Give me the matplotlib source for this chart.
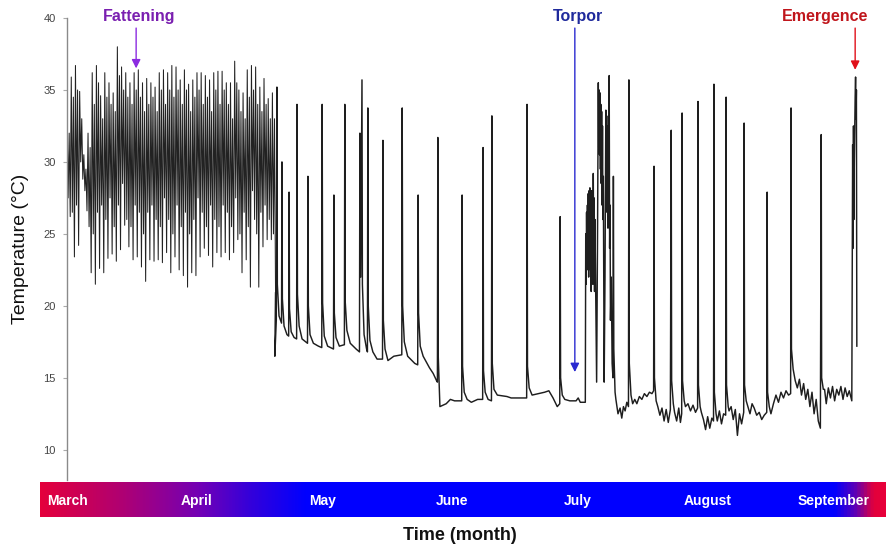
import numpy as np
import matplotlib
matplotlib.use("Agg")
import matplotlib.pyplot as plt
from matplotlib.colors import LinearSegmentedColormap

plt.rcParams['font.family'] = ['Liberation Sans', 'DejaVu Sans']

# ---- data: body temperature (deg C) vs. day since 1 March ----
# fattening phase, per day: max, first min, second max, second min (days 0..49)
fat_high = [33.0, 35.9, 36.7, 34.9, 30.5, 32.0, 36.2, 36.7, 34.6, 36.2,
            35.5, 34.8, 38.0, 36.6, 36.2, 35.5, 36.2, 36.4, 35.5, 35.8,
            35.5, 35.2, 36.2, 36.4, 36.2, 36.7, 36.6, 35.7, 36.4, 35.4,
            35.7, 36.2, 36.2, 36.0, 35.7, 36.2, 36.3, 36.3, 35.5, 35.5,
            37.0, 35.0, 34.8, 36.4, 36.7, 36.6, 35.2, 35.8, 34.4, 34.8]
fat_dip = [27.5, 26.5, 27.0, 30.0, 28.0, 25.5, 25.0, 26.5, 27.0, 26.0,
           27.5, 25.5, 27.0, 28.5, 26.0, 25.5, 27.0, 26.5, 25.0, 26.5,
           27.0, 26.0, 25.5, 27.5, 26.0, 25.0, 27.0, 25.5, 26.5, 25.0,
           26.0, 27.5, 26.5, 25.5, 27.0, 26.0, 25.5, 27.0, 26.5, 25.5,
           27.5, 25.0, 26.5, 25.5, 28.0, 25.0, 26.5, 27.0, 26.0, 25.0]
fat_peak2 = [32.0, 34.5, 35.0, 33.0, 29.5, 31.0, 34.0, 35.5, 33.0, 34.5,
             34.0, 33.5, 36.0, 35.0, 34.5, 34.0, 35.0, 34.5, 33.5, 34.0,
             34.5, 33.5, 35.0, 34.0, 35.0, 34.5, 35.0, 34.0, 35.0, 33.5,
             34.5, 35.0, 34.0, 34.5, 33.5, 35.0, 34.0, 35.0, 34.0, 33.0,
             35.5, 33.5, 33.0, 34.5, 35.0, 34.0, 33.5, 34.0, 33.0, 33.0]
fat_low = [26.2, 23.4, 24.2, 28.8, 26.6, 22.3, 21.5, 22.6, 22.3, 23.3,
           23.6, 23.1, 23.9, 25.6, 24.1, 23.2, 23.4, 22.7, 21.7, 23.2,
           23.1, 23.2, 23.0, 23.7, 22.3, 23.4, 22.5, 22.1, 21.3, 22.3,
           22.1, 23.4, 24.0, 23.5, 22.7, 23.7, 23.4, 23.7, 23.2, 23.7,
           24.6, 22.3, 23.2, 21.3, 26.0, 21.3, 24.1, 24.6, 24.6, 20.9]

# hibernation phase: (day, temperature) readings
may_pts = [(49.6, 16.5), (49.95, 19.0), (50.1, 35.2), (50.2, 21.5), (50.6, 19.3),
           (51.2, 18.8), (51.3, 30.0), (51.4, 20.5), (51.8, 18.6), (52.5, 18.0),
           (52.9, 17.9), (53.0, 27.9), (53.1, 19.8), (53.5, 18.2), (54.2, 17.8),
           (54.8, 17.7), (54.9, 34.0), (55.0, 20.8), (55.4, 18.6), (56.1, 17.7),
           (57.4, 17.4), (57.5, 29.0), (57.6, 20.0), (58.0, 18.0), (58.8, 17.4),
           (60.0, 17.2), (60.8, 17.1), (60.9, 34.0), (61.0, 20.2), (61.4, 17.9),
           (62.2, 17.2), (63.6, 17.0), (63.7, 27.7), (63.8, 19.5), (64.2, 17.8),
           (65.0, 17.2), (66.2, 17.3), (66.3, 34.0), (66.4, 20.3), (66.8, 18.3),
           (67.6, 17.4), (69.0, 17.0), (69.8, 16.8), (69.9, 32.0), (70.1, 22.0),
           (70.4, 35.7), (70.5, 21.5), (70.9, 18.0), (71.5, 17.0), (71.7, 16.8),
           (71.8, 33.75), (71.9, 20.0), (72.3, 17.6), (73.0, 16.8), (74.0, 16.3),
           (75.3, 16.3), (75.4, 31.5), (75.5, 19.0), (75.9, 17.0), (76.6, 16.2),
           (78.0, 16.5), (79.9, 16.6), (80.0, 33.75), (80.1, 20.0), (80.5, 17.5),
           (81.3, 16.5), (83.0, 16.0), (83.7, 15.9), (83.8, 27.7), (83.9, 19.5),
           (84.3, 17.2), (85.0, 16.5), (86.5, 15.7), (87.4, 15.3), (88.2, 14.8),
           (88.4, 14.7), (88.5, 31.7), (88.6, 16.5)]

june_pts = [(89.0, 13.0), (90.5, 13.2), (91.5, 13.5), (92.5, 13.4), (94.2, 13.4),
            (94.3, 27.7), (94.4, 15.8), (94.8, 14.0), (95.5, 13.5), (96.5, 13.3),
            (98.0, 13.5), (99.2, 13.5), (99.3, 31.0), (99.4, 15.5), (99.8, 14.0),
            (100.5, 13.5), (101.3, 13.4), (101.4, 33.2), (101.5, 16.0), (101.9, 14.2),
            (102.7, 13.8), (105.0, 13.7), (106.0, 13.6), (108.0, 13.6), (109.7, 13.6),
            (109.8, 34.0), (109.9, 15.8), (110.3, 14.3), (111.0, 13.8), (112.5, 13.9),
            (114.0, 14.0), (115.0, 14.1), (116.0, 13.6), (117.0, 13.0), (117.6, 13.2),
            (117.7, 26.2), (117.8, 15.0), (118.2, 13.8), (118.8, 13.5), (120.0, 13.4),
            (121.5, 13.4), (122.0, 13.6), (122.5, 13.3), (123.4, 13.3), (123.7, 13.3)]

july_pts = [(123.8, 25.0), (123.9, 21.5), (124.0, 26.5), (124.1, 22.5), (124.2, 27.0),
            (124.3, 23.5), (124.4, 27.8), (124.5, 22.0), (124.6, 28.0), (124.7, 24.0),
            (124.8, 28.2), (124.9, 22.5), (125.0, 27.5), (125.1, 21.0), (125.2, 28.0),
            (125.3, 23.0), (125.4, 27.0), (125.5, 21.5), (125.6, 29.2), (125.7, 23.5),
            (125.8, 27.5), (125.9, 21.0), (126.0, 26.0), (126.2, 20.0), (126.4, 14.7),
            (126.6, 24.0), (126.8, 35.5), (126.9, 31.0), (127.0, 35.0), (127.1, 30.5),
            (127.2, 34.8), (127.3, 29.5), (127.4, 34.0), (127.5, 28.5), (127.6, 33.5),
            (127.7, 27.0), (127.8, 32.5), (127.9, 26.0), (128.0, 29.0), (128.2, 14.7),
            (128.4, 22.0), (128.6, 33.6), (128.7, 28.0), (128.8, 33.2), (128.9, 26.5),
            (129.0, 32.5), (129.1, 25.4), (129.2, 30.0), (129.3, 27.0), (129.4, 36.0),
            (129.5, 24.0), (129.6, 27.0), (129.7, 19.0), (129.9, 22.0), (130.1, 16.0),
            (130.3, 15.0), (130.4, 29.0), (130.5, 17.0), (130.8, 14.0), (131.0, 13.5),
            (131.5, 12.5), (132.0, 12.9), (132.4, 12.2), (132.8, 13.0), (133.2, 12.7),
            (133.6, 13.3), (134.0, 13.0), (134.1, 35.7), (134.2, 16.0), (134.6, 13.8),
            (135.0, 13.2), (135.5, 13.5), (136.0, 13.2), (136.6, 13.7), (137.2, 13.5),
            (137.8, 13.9), (138.4, 13.7), (139.0, 14.0), (139.6, 13.9), (140.0, 14.1),
            (140.1, 29.7), (140.2, 15.0), (140.6, 13.4), (141.0, 13.0), (141.5, 12.4),
            (142.0, 12.9), (142.5, 12.0), (143.0, 12.8), (143.5, 11.9), (144.0, 12.8),
            (144.2, 32.2), (144.3, 14.8), (144.7, 13.2), (145.0, 12.6), (145.5, 12.0),
            (146.0, 12.9), (146.4, 11.9), (146.7, 12.5), (146.8, 33.4), (146.9, 14.8),
            (147.3, 13.4), (147.6, 13.0), (148.2, 13.2), (148.8, 12.7), (149.4, 13.1),
            (150.0, 12.6), (150.5, 12.9), (150.6, 34.2), (150.7, 14.5), (151.1, 13.0),
            (151.4, 12.6), (151.9, 12.1), (152.4, 11.4)]

aug_pts = [(152.9, 12.3), (153.4, 11.5), (153.9, 12.2), (154.3, 12.0), (154.4, 35.4),
           (154.5, 14.0), (154.9, 12.5), (155.2, 12.0), (155.7, 12.7), (156.2, 11.8),
           (156.7, 12.5), (157.2, 12.4), (157.3, 34.5), (157.4, 14.5), (157.8, 13.0),
           (158.0, 12.7), (158.5, 13.0), (159.0, 12.1), (159.5, 12.8), (160.0, 11.0),
           (160.5, 12.5), (161.0, 11.8), (161.5, 12.6), (161.6, 32.7), (161.7, 14.5),
           (162.1, 13.4), (162.4, 13.1), (163.0, 12.5), (163.5, 13.2), (164.0, 12.9),
           (164.6, 12.4), (165.2, 12.6), (165.8, 12.1), (166.4, 12.4), (167.0, 12.6),
           (167.1, 27.9), (167.2, 14.0), (167.6, 13.0), (168.0, 12.5), (168.6, 13.2),
           (169.2, 13.8), (169.8, 13.3), (170.4, 14.0), (171.0, 13.6), (171.6, 14.1),
           (172.2, 13.8), (172.7, 13.9), (172.8, 33.75), (172.9, 17.0), (173.3, 15.6),
           (173.8, 14.8), (174.3, 14.3), (174.8, 14.9), (175.3, 13.8), (175.8, 14.6),
           (176.3, 13.5), (176.8, 14.2), (177.3, 13.0), (177.8, 14.0), (178.3, 12.5),
           (178.8, 13.5), (179.3, 12.0), (179.8, 11.5), (180.0, 31.9), (180.1, 15.0),
           (180.5, 14.2), (180.8, 14.2), (181.2, 13.2), (181.7, 14.3), (182.2, 13.6),
           (182.7, 14.4), (183.2, 13.4), (183.7, 14.2), (184.2, 13.8), (184.7, 14.4),
           (185.2, 13.5), (185.7, 14.3), (186.2, 13.7), (186.7, 14.1), (187.3, 13.4),
           (187.5, 31.2), (187.6, 24.0), (187.7, 32.5), (187.8, 26.0), (187.9, 30.0),
           (188.0, 32.5), (188.1, 34.5), (188.2, 35.9), (188.3, 33.0), (188.4, 35.0),
           (188.5, 17.2)]

months = ['March', 'April', 'May', 'June', 'July', 'August', 'September']
month_start = [0, 31, 61, 92, 122, 153, 183]

# events: label, arrow day, label day, arrow tip, text colour, arrow colour
events = [('Fattening', 16.5, 17.2, 36.5, '#7a1fb0', '#8b2be0'),
          ('Torpor', 121.2, 122.0, 15.4, '#1f2a9c', '#2a2ad0'),
          ('Emergence', 188.1, 180.9, 36.4, '#c0161c', '#e0101a')]

# ---- build series ----
fat_days = [0.0]
fat_temps = [29.5]
for i in range(len(fat_high)):
    fat_days += [i + 0.02, i + 0.27, i + 0.52, i + 0.77]
    fat_temps += [fat_high[i], fat_dip[i], fat_peak2[i], fat_low[i]]
hib_days = [fat_days[-1]]
hib_temps = [fat_temps[-1]]
for pts in (may_pts, june_pts, july_pts, aug_pts):
    for d, t in pts:
        hib_days.append(d)
        hib_temps.append(t)

fig = plt.figure(figsize=(8.87, 5.45), dpi=100)
ax = fig.add_axes([67 / 887, 65 / 545, 820 / 887, 462 / 545])
ax.plot(fat_days, fat_temps, color='#222222', lw=0.75)
ax.plot(hib_days, hib_temps, color='#1e1e1e', lw=1.05)
ax.set_xlim(0, 195.7)
ax.set_ylim(7.9, 40)
ax.set_yticks([10, 15, 20, 25, 30, 35, 40])
ax.set_xticks([])
for s in ['top', 'right', 'bottom']:
    ax.spines[s].set_visible(False)
ax.spines['left'].set_color('#8a8a8a')
ax.spines['left'].set_linewidth(1.0)
ax.tick_params(axis='y', labelsize=8, labelcolor='#444444', color='#aaaaaa',
               length=3, width=0.8, pad=5)
ax.set_ylabel('Temperature (°C)', fontsize=14, color='#111111')
ax.yaxis.set_label_coords(-0.046, 0.5)

for name, d, tx, tip, tcol, acol in events:
    ax.annotate('', xy=(d, tip), xytext=(d, 39.3),
                arrowprops=dict(arrowstyle='-|>', color=acol, lw=1.0,
                                mutation_scale=13, shrinkA=0, shrinkB=0),
                annotation_clip=False)
    ax.text(tx, 40.1, name, ha='center', va='center', fontsize=11.5,
            fontweight='bold', color=tcol, clip_on=False)

# ---- month gradient bar ----
bar = fig.add_axes([40 / 887, 28 / 545, 847 / 887, 35 / 545])
stops = [(0.0, '#e4003c'), (0.094, '#b00072'), (0.185, '#7400b4'),
         (0.25, '#3200dc'), (0.313, '#0000ff'), (0.94, '#0000ff'),
         (0.965, '#6000b4'), (0.986, '#e2003c'), (1.0, '#e8003a')]
cmap = LinearSegmentedColormap.from_list('season', stops)
x0 = (40 - 67) / 4.19
bar.imshow(np.linspace(0, 1, 512)[None, :], aspect='auto', cmap=cmap,
           extent=[x0, 195.7, 0, 1])
bar.set_xlim(x0, 195.7)
bar.set_ylim(0, 1)
bar.axis('off')
for m, d in zip(months, month_start):
    bar.text(d, 0.47, m, ha='center', va='center', fontsize=10,
             fontweight='bold', color='white')

fig.text(460 / 887, 1 - 535 / 545, 'Time (month)', ha='center', va='center',
         fontsize=13, fontweight='bold', color='#111111')

fig.savefig('out.png', dpi=100)
